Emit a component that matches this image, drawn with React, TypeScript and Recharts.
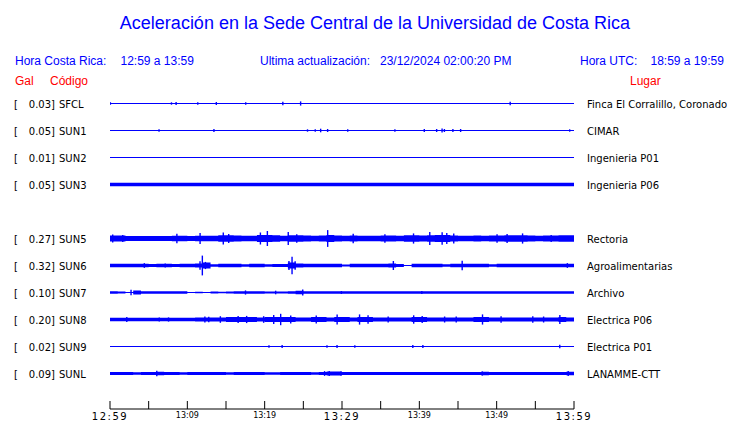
import { Area, Bar, ComposedChart, ReferenceLine, XAxis, YAxis } from "recharts";

// station list, top to bottom
const codes = ["SFCL", "SUN1", "SUN2", "SUN3", "SUN5", "SUN6", "SUN7", "SUN8", "SUN9", "SUNL"];
const peakGal = [0.03, 0.05, 0.01, 0.05, 0.27, 0.32, 0.1, 0.2, 0.02, 0.09];
const places = [
  "Finca El Corralillo, Coronado",
  "CIMAR",
  "Ingenieria P01",
  "Ingenieria P06",
  "Rectoria",
  "Agroalimentarias",
  "Archivo",
  "Electrica P06",
  "Electrica P01",
  "LANAMME-CTT",
];

// envelope of the background noise, one value (gal) per minute after 12:59
const sun3Noise = [
  0.06, 0.06, 0.055, 0.06, 0.055, 0.06, 0.06, 0.055, 0.06, 0.055, 0.06, 0.06, 0.055, 0.06, 0.06,
  0.055, 0.06, 0.06, 0.055, 0.06, 0.06, 0.055, 0.06, 0.06, 0.055, 0.06, 0.06, 0.055, 0.06, 0.06,
  0.055, 0.06, 0.06, 0.055, 0.06, 0.06, 0.06, 0.055, 0.06, 0.06, 0.06, 0.055, 0.06, 0.06, 0.06,
  0.055, 0.06, 0.06, 0.055, 0.06, 0.06, 0.055, 0.06, 0.06, 0.055, 0.06, 0.06, 0.055, 0.06, 0.06,
];
const sun5Noise = [
  0.1, 0.1, 0.08, 0.08, 0.085, 0.085, 0.08, 0.085, 0.09, 0.09, 0.085, 0.09, 0.09, 0.095, 0.11,
  0.11, 0.1, 0.09, 0.095, 0.12, 0.12, 0.11, 0.095, 0.11, 0.11, 0.1, 0.095, 0.1, 0.12, 0.1,
  0.095, 0.1, 0.09, 0.095, 0.09, 0.1, 0.1, 0.095, 0.11, 0.11, 0.1, 0.11, 0.12, 0.12, 0.1,
  0.095, 0.095, 0.1, 0.095, 0.1, 0.1, 0.11, 0.11, 0.11, 0.1, 0.095, 0.1, 0.1, 0.105, 0.11,
];
const sun6Noise = [
  0.06, 0.06, 0.06, 0.06, 0.06, 0.05, 0.06, 0.06, 0.05, 0.06, 0.06, 0.07, 0.1, 0.04, 0.06,
  0.06, 0.06, 0.04, 0.06, 0.06, 0.045, 0.05, 0.05, 0.1, 0.07, 0.06, 0.06, 0.06, 0.06, 0.06,
  0.035, 0.06, 0.06, 0.06, 0.06, 0.06, 0.07, 0.05, 0.02, 0.06, 0.06, 0.06, 0.06, 0.045, 0.06,
  0.06, 0.06, 0.06, 0.06, 0.04, 0.06, 0.06, 0.06, 0.06, 0.06, 0.06, 0.06, 0.06, 0.06, 0.06,
];
const sun7Noise = [
  0.045, 0.03, 0.02, 0.07, 0.045, 0.045, 0.045, 0.04, 0.045, 0.045, 0.02, 0.025, 0.02, 0.035, 0.025,
  0.03, 0.045, 0.045, 0.045, 0.04, 0.03, 0.035, 0.03, 0.04, 0.06, 0.045, 0.045, 0.04, 0.045, 0.045,
  0.045, 0.04, 0.045, 0.045, 0.045, 0.045, 0.04, 0.045, 0.045, 0.045, 0.045, 0.045, 0.04, 0.045, 0.045,
  0.045, 0.04, 0.045, 0.045, 0.045, 0.04, 0.045, 0.045, 0.045, 0.04, 0.045, 0.045, 0.045, 0.04, 0.045,
];
const sun8Noise = [
  0.06, 0.06, 0.06, 0.06, 0.06, 0.06, 0.06, 0.06, 0.06, 0.06, 0.06, 0.07, 0.07, 0.065, 0.065,
  0.08, 0.08, 0.08, 0.08, 0.07, 0.085, 0.085, 0.085, 0.085, 0.065, 0.065, 0.08, 0.08, 0.065, 0.085,
  0.085, 0.065, 0.085, 0.085, 0.065, 0.065, 0.07, 0.065, 0.065, 0.08, 0.08, 0.065, 0.065, 0.07, 0.07,
  0.065, 0.065, 0.085, 0.085, 0.065, 0.07, 0.07, 0.065, 0.065, 0.07, 0.07, 0.07, 0.065, 0.085, 0.07,
];
const sunlNoise = [
  0.05, 0.05, 0.05, 0.04, 0.05, 0.05, 0.055, 0.05, 0.05, 0.04, 0.05, 0.05, 0.05, 0.05, 0.05,
  0.04, 0.05, 0.05, 0.05, 0.05, 0.04, 0.04, 0.05, 0.05, 0.05, 0.05, 0.04, 0.05, 0.065, 0.065,
  0.05, 0.05, 0.05, 0.05, 0.05, 0.05, 0.05, 0.05, 0.05, 0.05, 0.05, 0.05, 0.05, 0.05, 0.05,
  0.05, 0.05, 0.05, 0.055, 0.05, 0.05, 0.05, 0.05, 0.05, 0.05, 0.05, 0.05, 0.05, 0.05, 0.055,
];

// isolated spikes: [minutes after 12:59, amplitude in gal]
const sfclPeaks = [[0, 0.04], [7.9, 0.04], [8.5, 0.05], [11.3, 0.04], [13.7, 0.05], [17.5, 0.04], [22.3, 0.06], [24.6, 0.07], [51.7, 0.06]];
const sun1Peaks = [[6.4, 0.04], [13.5, 0.05], [25.6, 0.04], [26.6, 0.04], [27.3, 0.06], [28.2, 0.05], [30.8, 0.04], [36.9, 0.04], [40.7, 0.05], [42.3, 0.05], [43.0, 0.07], [43.3, 0.05], [44.4, 0.05], [45.4, 0.05], [59.5, 0.04]];
const sun2Peaks: number[][] = [];
const sun3Peaks: number[][] = [];
const sun5Peaks = [[0.3, 0.13], [1.6, 0.12], [8.6, 0.16], [11.6, 0.18], [14.6, 0.2], [15.3, 0.15], [19.4, 0.2], [20.3, 0.25], [23.0, 0.22], [24.1, 0.14], [28.1, 0.28], [31.4, 0.16], [35.5, 0.14], [39.2, 0.17], [41.3, 0.22], [42.9, 0.21], [43.5, 0.18], [44.4, 0.17], [50.0, 0.14], [51.3, 0.15], [53.3, 0.17], [57.0, 0.12]];
const sun6Peaks = [[4.5, 0.08], [7.2, 0.07], [11.7, 0.14], [12.0, 0.33], [12.4, 0.12], [23.2, 0.15], [23.6, 0.29], [24.0, 0.14], [36.7, 0.15], [45.6, 0.16], [59.2, 0.08]];
const sun7Peaks = [[2.7, 0.09], [17.5, 0.07], [21.4, 0.06], [24.9, 0.1], [29.9, 0.05], [40.3, 0.05]];
const sun8Peaks = [[2.2, 0.08], [6.4, 0.07], [7.6, 0.07], [12.3, 0.1], [12.8, 0.09], [14.3, 0.11], [16.6, 0.12], [17.7, 0.12], [19.9, 0.11], [21.2, 0.15], [22.1, 0.19], [23.4, 0.13], [26.7, 0.13], [29.4, 0.17], [32.3, 0.17], [33.4, 0.14], [36.0, 0.1], [39.3, 0.14], [40.4, 0.12], [43.3, 0.1], [44.8, 0.1], [48.2, 0.17], [50.6, 0.11], [54.7, 0.11], [56.1, 0.1], [58.2, 0.15]];
const sun9Peaks = [[20.6, 0.04], [22.3, 0.05], [28.1, 0.04], [29.4, 0.05], [31.7, 0.04], [39.2, 0.05], [40.5, 0.05], [58.2, 0.06]];
const sunlPeaks = [[6.0, 0.09], [27.7, 0.08], [28.3, 0.08], [29.8, 0.07], [48.1, 0.07], [59.2, 0.08]];

const tickMinutes = [0, 5, 10, 15, 20, 25, 30, 35, 40, 45, 50, 55, 60];
const timeLabels = ["12:59", "13:09", "13:19", "13:29", "13:39", "13:49", "13:59"];

const noiseList = [[], [], [], sun3Noise, sun5Noise, sun6Noise, sun7Noise, sun8Noise, [], sunlNoise];
const peakList = [sfclPeaks, sun1Peaks, sun2Peaks, sun3Peaks, sun5Peaks, sun6Peaks, sun7Peaks, sun8Peaks, sun9Peaks, sunlPeaks];

const BLUE = "#0000ff";
const RED = "#ff0000";
const PLOT_LEFT = 110;
const PLOT_W = 464;
const ROW_H = 27;
const FIRST_TOP = 90;
const PAD = 30;
const MARGIN = { top: 0, right: 0, bottom: 0, left: 0 };
const LABEL_FONT = "'DejaVu Sans', sans-serif";
const HEAD_FONT = "'Liberation Sans', Arial, sans-serif";

// SUN4 has no trace, its slot stays empty
const rowTop = (i: number) => FIRST_TOP + ROW_H * (i < 4 ? i : i + 1);

function Trace({ noise, peaks, top }: { noise: number[]; peaks: number[][]; top: number }) {
  const band = noise.length
    ? [...noise.map((a, i) => ({ m: i, r: [-a, a] })), { m: 60, r: [-noise[59], noise[59]] }]
    : [{ m: 0, r: [0, 0] }, { m: 60, r: [0, 0] }];
  const spikes = peaks.map(([m, a]) => ({ m, r: [-a, a] }));
  const box = { position: "absolute" as const, left: PLOT_LEFT, top, width: PLOT_W, height: ROW_H };
  return (
    <>
      <div style={box}>
        <ComposedChart width={PLOT_W} height={ROW_H} data={band} margin={MARGIN}>
          <XAxis type="number" dataKey="m" domain={[0, 60]} hide allowDataOverflow />
          <YAxis type="number" domain={[-0.45, 0.45]} hide allowDataOverflow />
          <ReferenceLine y={0} stroke={BLUE} strokeWidth={1} />
          <Area
            dataKey="r"
            type="stepAfter"
            stroke="none"
            fill={BLUE}
            fillOpacity={1}
            isAnimationActive={false}
          />
        </ComposedChart>
      </div>
      {spikes.length > 0 && (
        <div style={box}>
          <ComposedChart width={PLOT_W} height={ROW_H} data={spikes} margin={MARGIN}>
            <XAxis type="number" dataKey="m" domain={[0, 60]} hide allowDataOverflow />
            <YAxis type="number" domain={[-0.45, 0.45]} hide allowDataOverflow />
            <Bar dataKey="r" barSize={1.4} fill={BLUE} isAnimationActive={false} />
          </ComposedChart>
        </div>
      )}
    </>
  );
}

function TimeTick(props: any) {
  const { x, y, payload } = props;
  const v = payload.value as number;
  const label = v % 10 === 0 ? timeLabels[v / 10] : null;
  const big = v % 30 === 0;
  return (
    <g>
      <line x1={x} y1={y - 8} x2={x} y2={y} stroke="#000" strokeWidth={1} />
      {label && (
        <text
          x={x}
          y={big ? y + 11 : y + 9.3}
          textAnchor="middle"
          fontFamily={LABEL_FONT}
          fontSize={big ? 10 : 8}
          letterSpacing={big ? 1.5 : 0}
          fill="#000"
        >
          {label}
        </text>
      )}
    </g>
  );
}

export default function App() {
  return (
    <div style={{ position: "absolute", left: 0, top: 0, width: 740, height: 423, background: "#fff" }}>
      <svg width={740} height={423} style={{ position: "absolute", left: 0, top: 0 }}>
        <text x={375} y={29} textAnchor="middle" fontFamily={HEAD_FONT} fontSize={18} fill={BLUE}>
          Aceleración en la Sede Central de la Universidad de Costa Rica
        </text>
        <g fontFamily={HEAD_FONT} fontSize={12} fill={BLUE}>
          <text x={15} y={65}>Hora Costa Rica:</text>
          <text x={120.5} y={65}>12:59 a 13:59</text>
          <text x={260} y={65}>Ultima actualización:</text>
          <text x={380} y={65}>23/12/2024 02:00:20 PM</text>
          <text x={580} y={65}>Hora UTC:</text>
          <text x={650.5} y={65}>18:59 a 19:59</text>
        </g>
        <g fontFamily={HEAD_FONT} fontSize={12} fill={RED}>
          <text x={15} y={85}>Gal</text>
          <text x={50} y={85}>Código</text>
          <text x={630} y={85}>Lugar</text>
        </g>
        <g fontFamily={LABEL_FONT} fontSize={10} fill="#000">
          {codes.map((c, i) => {
            const base = rowTop(i) + ROW_H / 2 + 4;
            return (
              <g key={c}>
                <text x={14} y={base}>[</text>
                <text x={55} y={base} textAnchor="end">{`${peakGal[i].toFixed(2)}]`}</text>
                <text x={59} y={base}>{c}</text>
                <text x={587} y={base}>{places[i]}</text>
              </g>
            );
          })}
        </g>
      </svg>
      {codes.map((c, i) => (
        <Trace key={c} noise={noiseList[i]} peaks={peakList[i]} top={rowTop(i)} />
      ))}
      <div style={{ position: "absolute", left: PLOT_LEFT - PAD, top: 380, width: PLOT_W + 2 * PAD, height: 43 }}>
        <ComposedChart
          width={PLOT_W + 2 * PAD}
          height={43}
          data={tickMinutes.map((m) => ({ m }))}
          margin={{ top: 0, right: PAD, bottom: 0, left: PAD }}
        >
          <XAxis
            type="number"
            dataKey="m"
            domain={[0, 60]}
            ticks={tickMinutes}
            interval={0}
            height={14}
            tickSize={0}
            tickMargin={0}
            tickLine={false}
            axisLine={{ stroke: "#000" }}
            tick={<TimeTick />}
          />
          <YAxis hide />
        </ComposedChart>
      </div>
    </div>
  );
}
